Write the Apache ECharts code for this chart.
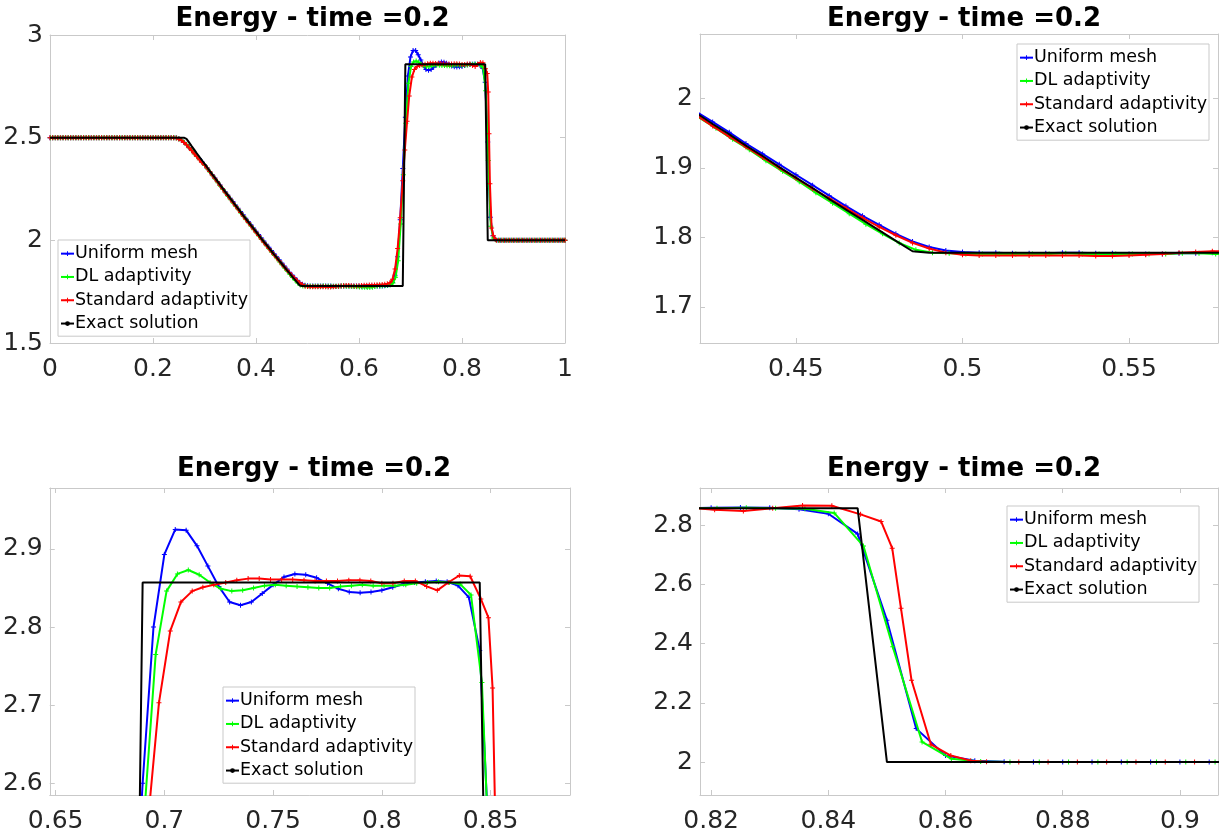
<!DOCTYPE html>
<html>
<head>
<meta charset="utf-8">
<title>Energy - time =0.2</title>
<script src="https://cdn.jsdelivr.net/npm/echarts@6/dist/echarts.min.js"></script>
<style>
  html, body { margin: 0; padding: 0; background: #fff; }
  #chart { width: 1225px; height: 838px; }
</style>
</head>
<body>
<div id="chart"></div>
<script>
// Sod shock tube, specific internal energy at t = 0.2 — numerical solutions vs. exact.

const seriesNames = ['Uniform mesh', 'DL adaptivity', 'Standard adaptivity', 'Exact solution'];

// Uniform mesh, h = 0.005
const uniformMesh = [
  [0,2.5],[0.005,2.5],[0.01,2.5],[0.015,2.5],[0.02,2.5],[0.025,2.5],[0.03,2.5],[0.035,2.5],[0.04,2.5],[0.045,2.5],
  [0.05,2.5],[0.055,2.5],[0.06,2.5],[0.065,2.5],[0.07,2.5],[0.075,2.5],[0.08,2.5],[0.085,2.5],[0.09,2.5],[0.095,2.5],
  [0.1,2.5],[0.105,2.5],[0.11,2.5],[0.115,2.5],[0.12,2.5],[0.125,2.5],[0.13,2.5],[0.135,2.5],[0.14,2.5],[0.145,2.5],
  [0.15,2.5],[0.155,2.5],[0.16,2.5],[0.165,2.5],[0.17,2.5],[0.175,2.5],[0.18,2.5],[0.185,2.5],[0.19,2.5],[0.195,2.5],
  [0.2,2.5],[0.205,2.5],[0.21,2.5],[0.215,2.5],[0.22,2.5],[0.225,2.5],[0.23,2.5],[0.235,2.5],[0.24,2.5],
  [0.245,2.499],[0.25,2.495],[0.255,2.488],[0.26,2.478],[0.265,2.466],[0.27,2.452],[0.275,2.439],[0.28,2.426],
  [0.285,2.412],[0.29,2.398],[0.295,2.383],[0.3,2.368],[0.305,2.352],[0.31,2.335],[0.315,2.319],[0.32,2.303],
  [0.325,2.286],[0.33,2.27],[0.335,2.253],[0.34,2.237],[0.345,2.221],[0.35,2.205],[0.355,2.189],[0.36,2.172],
  [0.365,2.156],[0.37,2.14],[0.375,2.124],[0.38,2.108],[0.385,2.092],[0.39,2.076],[0.395,2.06],[0.4,2.044],
  [0.405,2.028],[0.41,2.012],[0.415,1.997],[0.42,1.981],[0.425,1.966],[0.43,1.951],[0.435,1.935],[0.44,1.92],
  [0.445,1.905],[0.45,1.89],[0.455,1.875],[0.46,1.86],[0.465,1.845],[0.47,1.831],[0.475,1.818],[0.48,1.805],
  [0.485,1.794],[0.49,1.786],[0.495,1.781],[0.5,1.779],[0.505,1.778],[0.51,1.778],[0.515,1.777],[0.52,1.777],
  [0.525,1.777],[0.53,1.778],[0.535,1.778],[0.54,1.777],[0.545,1.777],[0.55,1.776],[0.555,1.776],[0.56,1.776],
  [0.565,1.777],[0.57,1.777],[0.575,1.778],[0.58,1.778],[0.585,1.778],[0.59,1.778],[0.595,1.777],[0.6,1.777],
  [0.605,1.776],[0.61,1.776],[0.615,1.776],[0.62,1.777],[0.625,1.777],[0.63,1.778],[0.635,1.778],[0.64,1.778],
  [0.645,1.778],[0.65,1.779],[0.655,1.78],[0.66,1.784],[0.665,1.795],[0.67,1.83],[0.675,1.92],[0.68,2.1],
  [0.685,2.35],[0.69,2.6],[0.695,2.8],[0.7,2.893],[0.705,2.925],[0.71,2.924],[0.715,2.904],[0.72,2.878],
  [0.725,2.852],[0.73,2.832],[0.735,2.828],[0.74,2.832],[0.745,2.843],[0.75,2.854],[0.755,2.864],[0.76,2.868],
  [0.765,2.867],[0.77,2.863],[0.775,2.856],[0.78,2.849],[0.785,2.845],[0.79,2.844],[0.795,2.845],[0.8,2.847],
  [0.805,2.851],[0.81,2.855],[0.815,2.857],[0.82,2.858],[0.825,2.859],[0.83,2.858],[0.835,2.853],[0.84,2.838],
  [0.845,2.77],[0.85,2.479],[0.855,2.113],[0.86,2.022],[0.865,2.005],[0.87,2.001],[0.875,2],[0.88,2],
  [0.885,2],[0.89,2],[0.895,2],[0.9,2],[0.905,2],[0.91,2],[0.915,2],[0.92,2],[0.925,2],[0.93,2],
  [0.935,2],[0.94,2],[0.945,2],[0.95,2],[0.955,2],[0.96,2],[0.965,2],[0.97,2],[0.975,2],[0.98,2],
  [0.985,2],[0.99,2],[0.995,2],[1,2]
];

// Adaptive mesh driven by the DL indicator
const dlAdaptivity = [
  [0.001,2.5],[0.006,2.5],[0.011,2.5],[0.016,2.5],[0.021,2.5],[0.026,2.5],[0.031,2.5],[0.036,2.5],[0.041,2.5],[0.046,2.5],
  [0.051,2.5],[0.056,2.5],[0.061,2.5],[0.066,2.5],[0.071,2.5],[0.076,2.5],[0.081,2.5],[0.086,2.5],[0.091,2.5],[0.096,2.5],
  [0.101,2.5],[0.106,2.5],[0.111,2.5],[0.116,2.5],[0.121,2.5],[0.126,2.5],[0.131,2.5],[0.136,2.5],[0.141,2.5],[0.146,2.5],
  [0.151,2.5],[0.156,2.5],[0.161,2.5],[0.166,2.5],[0.171,2.5],[0.176,2.5],[0.181,2.5],[0.186,2.5],[0.191,2.5],[0.196,2.5],
  [0.201,2.5],[0.206,2.5],[0.211,2.5],[0.216,2.5],[0.221,2.5],[0.226,2.5],[0.231,2.5],[0.236,2.5],[0.241,2.5],
  [0.246,2.498],[0.251,2.494],[0.256,2.487],[0.261,2.477],[0.266,2.464],[0.271,2.45],[0.276,2.436],[0.281,2.421],
  [0.286,2.407],[0.291,2.393],[0.296,2.378],[0.301,2.364],[0.306,2.348],[0.311,2.331],[0.316,2.314],[0.321,2.298],
  [0.326,2.281],[0.331,2.264],[0.336,2.248],[0.341,2.231],[0.346,2.214],[0.351,2.198],[0.356,2.181],[0.361,2.165],
  [0.366,2.149],[0.371,2.132],[0.376,2.116],[0.381,2.1],[0.386,2.084],[0.391,2.068],[0.396,2.052],[0.401,2.036],
  [0.406,2.02],[0.411,2.004],[0.416,1.988],[0.421,1.972],[0.426,1.957],[0.431,1.941],[0.436,1.926],[0.441,1.91],
  [0.446,1.895],[0.451,1.88],[0.456,1.864],[0.461,1.849],[0.466,1.834],[0.471,1.819],[0.476,1.805],[0.481,1.792],
  [0.486,1.782],[0.491,1.778],[0.496,1.777],[0.501,1.776],[0.506,1.776],[0.511,1.776],[0.516,1.776],[0.521,1.776],
  [0.526,1.776],[0.531,1.777],[0.536,1.776],[0.541,1.776],[0.546,1.776],[0.551,1.776],[0.556,1.776],[0.561,1.776],
  [0.566,1.777],[0.571,1.777],[0.576,1.776],[0.581,1.776],[0.586,1.775],[0.591,1.775],[0.596,1.774],[0.601,1.773],
  [0.606,1.772],[0.611,1.771],[0.616,1.77],[0.621,1.77],[0.626,1.772],[0.631,1.775],[0.636,1.777],[0.641,1.778],
  [0.646,1.779],[0.651,1.78],[0.656,1.781],[0.661,1.784],[0.666,1.792],[0.671,1.82],[0.676,1.9],[0.681,2.08],
  [0.686,2.32],[0.691,2.57],[0.696,2.765],[0.701,2.846],[0.706,2.868],[0.711,2.873],[0.716,2.867],[0.721,2.857],
  [0.726,2.849],[0.731,2.846],[0.736,2.847],[0.741,2.85],[0.746,2.853],[0.751,2.854],[0.756,2.853],[0.761,2.852],
  [0.766,2.851],[0.771,2.85],[0.776,2.85],[0.781,2.852],[0.786,2.853],[0.791,2.854],[0.796,2.853],[0.801,2.853],
  [0.806,2.853],[0.811,2.854],[0.816,2.856],[0.821,2.857],[0.826,2.858],[0.831,2.857],[0.836,2.855],[0.841,2.841],
  [0.846,2.729],[0.851,2.389],[0.856,2.068],[0.861,2.011],[0.866,2.002],[0.871,2],[0.876,2],[0.881,2],
  [0.886,2],[0.891,2],[0.896,2],[0.901,2],[0.906,2],[0.911,2],[0.916,2],[0.921,2],[0.926,2],[0.931,2],
  [0.936,2],[0.941,2],[0.946,2],[0.951,2],[0.956,2],[0.961,2],[0.966,2],[0.971,2],[0.976,2],[0.981,2],
  [0.986,2],[0.991,2],[0.996,2],[1,2]
];

// Adaptive mesh driven by the standard indicator
const standardAdaptivity = [
  [0,2.5],[0.005,2.5],[0.01,2.5],[0.015,2.5],[0.02,2.5],[0.025,2.5],[0.03,2.5],[0.035,2.5],[0.04,2.5],[0.045,2.5],
  [0.05,2.5],[0.055,2.5],[0.06,2.5],[0.065,2.5],[0.07,2.5],[0.075,2.5],[0.08,2.5],[0.085,2.5],[0.09,2.5],[0.095,2.5],
  [0.1,2.5],[0.105,2.5],[0.11,2.5],[0.115,2.5],[0.12,2.5],[0.125,2.5],[0.13,2.5],[0.135,2.5],[0.14,2.5],[0.145,2.5],
  [0.15,2.5],[0.155,2.5],[0.16,2.5],[0.165,2.5],[0.17,2.5],[0.175,2.5],[0.18,2.5],[0.185,2.5],[0.19,2.5],[0.195,2.5],
  [0.2,2.5],[0.205,2.5],[0.21,2.5],[0.215,2.5],[0.22,2.5],[0.225,2.5],[0.23,2.5],[0.235,2.5],[0.24,2.5],
  [0.245,2.498],[0.25,2.494],[0.255,2.487],[0.26,2.477],[0.265,2.465],[0.27,2.451],[0.275,2.437],[0.28,2.422],
  [0.285,2.408],[0.29,2.393],[0.295,2.379],[0.3,2.367],[0.305,2.352],[0.31,2.335],[0.315,2.318],[0.32,2.302],
  [0.325,2.285],[0.33,2.268],[0.335,2.251],[0.34,2.234],[0.345,2.218],[0.35,2.201],[0.355,2.185],[0.36,2.168],
  [0.365,2.152],[0.37,2.136],[0.375,2.119],[0.38,2.103],[0.385,2.087],[0.39,2.071],[0.395,2.055],[0.4,2.039],
  [0.405,2.023],[0.41,2.007],[0.415,1.991],[0.42,1.976],[0.425,1.96],[0.43,1.945],[0.435,1.93],[0.44,1.915],
  [0.445,1.9],[0.45,1.885],[0.455,1.87],[0.46,1.856],[0.465,1.842],[0.47,1.828],[0.475,1.815],[0.48,1.803],
  [0.485,1.792],[0.49,1.784],[0.495,1.778],[0.5,1.775],[0.505,1.774],[0.51,1.774],[0.515,1.774],[0.52,1.774],
  [0.525,1.774],[0.53,1.774],[0.535,1.774],[0.54,1.773],[0.545,1.773],[0.55,1.774],[0.555,1.775],[0.56,1.776],
  [0.565,1.778],[0.57,1.779],[0.575,1.78],[0.58,1.78],[0.585,1.779],[0.59,1.778],[0.595,1.778],[0.6,1.779],
  [0.605,1.78],[0.61,1.781],[0.615,1.781],[0.62,1.782],[0.625,1.782],[0.63,1.783],[0.635,1.784],[0.64,1.784],
  [0.645,1.785],[0.65,1.786],[0.655,1.788],[0.66,1.793],[0.665,1.81],[0.67,1.86],[0.675,1.96],[0.68,2.11],
  [0.685,2.29],[0.689,2.44],[0.6934,2.58],[0.6975,2.703],[0.7027,2.795],[0.7076,2.832],[0.7128,2.846],[0.7177,2.851],
  [0.7227,2.854],[0.7282,2.857],[0.7333,2.86],[0.7385,2.862],[0.7436,2.862],[0.7488,2.861],[0.7539,2.861],[0.759,2.861],
  [0.7642,2.86],[0.7693,2.859],[0.7745,2.859],[0.7796,2.859],[0.7848,2.86],[0.7899,2.86],[0.7949,2.859],[0.8,2.856],
  [0.8051,2.856],[0.8103,2.859],[0.8154,2.859],[0.8206,2.852],[0.8255,2.847],[0.8305,2.857],[0.8356,2.866],[0.8406,2.865],
  [0.8455,2.836],[0.849,2.812],[0.8509,2.722],[0.8524,2.519],[0.8542,2.276],[0.8575,2.06],[0.8609,2.022],[0.8643,2.005],
  [0.867,2.001],[0.8725,2],[0.8775,2],[0.8825,2],[0.8875,2],[0.8925,2],[0.8975,2],[0.9025,2],
  [0.9075,2],[0.9125,2],[0.9175,2],[0.9225,2],[0.9275,2],[0.9325,2],[0.9375,2],[0.9425,2],
  [0.9475,2],[0.9525,2],[0.9575,2],[0.9625,2],[0.9675,2],[0.9725,2],[0.9775,2],[0.9825,2],
  [0.9875,2],[0.9925,2],[0.9975,2],[1,2]
];

// Exact Riemann solution sampled at h = 0.005 (flat states kept as end points)
const exactSolution = [
  [0,2.5],[0.26,2.5],[0.265,2.494],[0.27,2.477],[0.275,2.459],[0.28,2.442],[0.285,2.424],[0.29,2.407],
  [0.295,2.39],[0.3,2.373],[0.305,2.356],[0.31,2.338],[0.315,2.321],[0.32,2.305],[0.325,2.288],[0.33,2.271],
  [0.335,2.254],[0.34,2.237],[0.345,2.221],[0.35,2.204],[0.355,2.188],[0.36,2.171],[0.365,2.155],[0.37,2.139],
  [0.375,2.122],[0.38,2.106],[0.385,2.09],[0.39,2.074],[0.395,2.058],[0.4,2.042],[0.405,2.026],[0.41,2.01],
  [0.415,1.994],[0.42,1.979],[0.425,1.963],[0.43,1.948],[0.435,1.932],[0.44,1.917],[0.445,1.901],[0.45,1.886],
  [0.455,1.871],[0.46,1.855],[0.465,1.84],[0.47,1.825],[0.475,1.81],[0.48,1.795],[0.485,1.78],[0.49,1.778],
  [0.685,1.778],[0.69,2.857],[0.845,2.857],[0.85,2],[1,2]
];

const seriesData = [uniformMesh, dlAdaptivity, standardAdaptivity, exactSolution];

// Axis tick values of each panel
const panelXTicks = [
  [0, 0.2, 0.4, 0.6, 0.8, 1],
  [0.45, 0.5, 0.55],
  [0.65, 0.7, 0.75, 0.8, 0.85],
  [0.82, 0.84, 0.86, 0.88, 0.9]
];
const panelYTicks = [
  [1.5, 2, 2.5, 3],
  [1.7, 1.8, 1.9, 2],
  [2.6, 2.7, 2.8, 2.9],
  [2, 2.2, 2.4, 2.6, 2.8]
];
const panelXRange = [[0, 1], [0.4212, 0.5767], [0.6473, 0.8865], [0.8181, 0.9065]];
const panelYRange = [[1.5, 3], [1.648, 2.0925], [2.585, 2.978], [1.889, 2.925]];
const panelTitle = 'Energy - time =0.2';

// ---- layout & style ----
const seriesColors = ['#0000ff', '#00ff00', '#ff0000', '#000000'];
const panelBoxes = [
  { left: 50,  top: 35,  width: 515, height: 308 },
  { left: 700, top: 34,  width: 518, height: 309 },
  { left: 48,  top: 488, width: 522, height: 307 },
  { left: 700, top: 488, width: 518, height: 307 }
];
const legendPos = [
  { left: 58,   top: 240 },
  { left: 1017, top: 44 },
  { left: 223,  top: 687 },
  { left: 1007, top: 506 }
];
const titleTop = [1, 451];

const FONT = 'DejaVu Sans';
const boxColor = '#c9c9c9';
const plusSymbol = 'path://M2,0H3V2H5V3H3V5H2V3H0V2H2Z';

const grids = [], xAxes = [], yAxes = [], series = [], legends = [], titles = [];

panelBoxes.forEach((box, p) => {
  grids.push({ left: box.left, top: box.top, width: box.width, height: box.height, containLabel: false });

  const baseAxis = {
    type: 'value',
    gridIndex: p,
    splitLine: { show: false },
    axisLine: { show: true, onZero: false, lineStyle: { color: boxColor, width: 1 } },
  };
  xAxes.push(Object.assign({}, baseAxis, {
    position: 'bottom',
    min: panelXRange[p][0], max: panelXRange[p][1],
    axisTick: { show: true, inside: true, length: 5, lineStyle: { color: boxColor }, customValues: panelXTicks[p] },
    axisLabel: { show: true, customValues: panelXTicks[p], margin: 14, color: '#262626',
                 fontFamily: FONT, fontSize: 25, showMinLabel: true, showMaxLabel: true }
  }));
  xAxes.push(Object.assign({}, baseAxis, {
    position: 'top',
    min: panelXRange[p][0], max: panelXRange[p][1],
    axisTick: { show: true, inside: true, length: 5, lineStyle: { color: boxColor }, customValues: panelXTicks[p] },
    axisLabel: { show: false }
  }));
  yAxes.push(Object.assign({}, baseAxis, {
    position: 'left',
    min: panelYRange[p][0], max: panelYRange[p][1],
    axisTick: { show: true, inside: true, length: 5, lineStyle: { color: boxColor }, customValues: panelYTicks[p] },
    axisLabel: { show: true, customValues: panelYTicks[p], margin: 7, color: '#262626',
                 fontFamily: FONT, fontSize: 25 }
  }));
  yAxes.push(Object.assign({}, baseAxis, {
    position: 'right',
    min: panelYRange[p][0], max: panelYRange[p][1],
    axisTick: { show: true, inside: true, length: 5, lineStyle: { color: boxColor }, customValues: panelYTicks[p] },
    axisLabel: { show: false }
  }));

  seriesNames.forEach((name, s) => {
    const isExact = s === 3;
    series.push({
      type: 'line',
      name: name,
      xAxisIndex: 2 * p,
      yAxisIndex: 2 * p,
      data: seriesData[s],
      color: seriesColors[s],
      lineStyle: { color: seriesColors[s], width: 2 },
      itemStyle: { color: seriesColors[s] },
      symbol: isExact ? 'none' : plusSymbol,
      symbolSize: 5,
      showSymbol: !isExact,
      clip: true,
      silent: true,
      z: 2 + s
    });
  });

  legends.push({
    orient: 'vertical',
    left: legendPos[p].left,
    top: legendPos[p].top,
    data: seriesNames,
    itemWidth: 13,
    itemHeight: 6,
    itemGap: 0,
    padding: [2, 2, 1, 2],
    backgroundColor: '#ffffff',
    borderColor: boxColor,
    borderWidth: 1,
    borderRadius: 0,
    selectedMode: false,
    textStyle: { fontFamily: FONT, fontSize: 17.5, color: '#000', lineHeight: 23.3, padding: [0, 0, 0, -4] }
  });

  titles.push({
    text: panelTitle,
    left: box.left + box.width / 2,
    top: titleTop[p < 2 ? 0 : 1],
    textAlign: 'center',
    textStyle: { fontFamily: FONT, fontWeight: 'bold', fontSize: 26, color: '#000' }
  });
});

const chart = echarts.init(document.getElementById('chart'), null, { renderer: 'canvas' });
chart.setOption({
  backgroundColor: '#ffffff',
  animation: false,
  title: titles,
  grid: grids,
  xAxis: xAxes,
  yAxis: yAxes,
  legend: legends,
  series: series
});
</script>
</body>
</html>
